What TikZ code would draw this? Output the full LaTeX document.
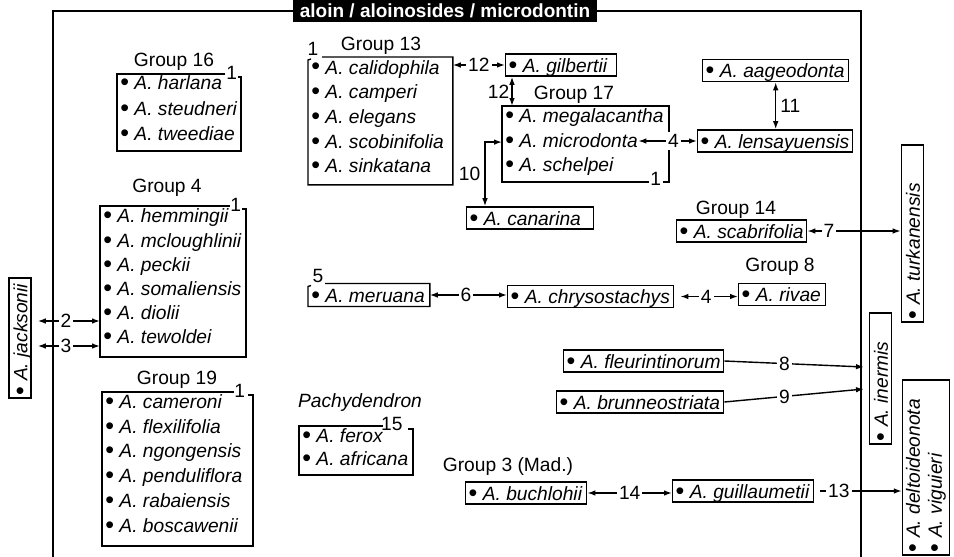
\documentclass[tikz,border=0pt]{standalone}
\usepackage{fontspec}
\setmainfont{Liberation Sans}
\usetikzlibrary{arrows.meta,calc}
\newcommand\bx[2]{\hbox to #1pt{#2\hss}}
\newcommand\spn[1]{\raisebox{-0.5pt}{\fontsize{12.5}{12}\selectfont\textbullet}\ \textit{A.\ #1}}
\tikzset{
  base/.style={font=\fontsize{9.6}{11}\selectfont},
  ln/.style={line width=0.7pt},
  spnd/.style={base, inner xsep=1.5pt, inner ysep=0.6pt, text height=8.6pt, text depth=1.3pt},
  sp/.style={spnd, draw, line width=0.7pt},
  it/.style={base, anchor=base west, inner xsep=0pt, inner ysep=0pt, text height=7pt, text depth=2.1pt},
  num/.style={base, inner sep=0pt},
  lab/.style={base, fill=white, inner sep=1pt},
  gb/.style={inner sep=0pt, anchor=north west},
  both/.style={{Latex[length=4pt,width=2.8pt]}-{Latex[length=4pt,width=2.8pt]}},
  one/.style={-{Latex[length=4pt,width=2.8pt]}},
}
\begin{document}
\begin{tikzpicture}[x=0.5pt,y=-0.5pt]
\useasboundingbox (0,0) rectangle (954,557);

% title and frame
\node[fill=black, text=white, font=\fontsize{9.5}{11}\selectfont\bfseries, minimum width=152pt, minimum height=11pt, inner sep=0pt] (title) at (445,11) {aloin / aloinosides / microdontin};
\draw[ln] (53,557) -- (53,11) -- (title.west);
\draw[ln] (title.east) -- (861,11) -- (861,557);

% Group 16
\node[base] (l16) at (174,62) {Group 16};
\node[gb, minimum width=61.5pt, minimum height=38pt] (g16) at (117,74) {};
\draw[ln] ([shift={(-16,0)}]g16.north east) -- (g16.north west) -- (g16.south west) -- (g16.south east) -- ([shift={(0,3)}]g16.north east) -- ([shift={(-3,3)}]g16.north east);
\node[num] (n16) at ([shift={(-9,-1)}]g16.north east) {1};
\node[it] (i16a) at (120,90) {\spn{harlana}};
\node[it] (i16b) at (120,115) {\spn{steudneri}};
\node[it] (i16c) at (120,140) {\spn{tweediae}};

% Group 4
\node[base] (l4) at (167,188) {Group 4};
\node[gb, minimum width=72.5pt, minimum height=75pt] (g4) at (100,206) {};
\draw[ln] ([shift={(-16,0)}]g4.north east) -- (g4.north west) -- (g4.south west) -- (g4.south east) -- ([shift={(0,3)}]g4.north east) -- ([shift={(-4,3)}]g4.north east);
\node[num] (n4) at ([shift={(-10,-1)}]g4.north east) {1};
\node[it] (i4a) at (103,222) {\spn{hemmingii}};
\node[it] (i4b) at (103,247) {\spn{mcloughlinii}};
\node[it] (i4c) at (103,271) {\spn{peckii}};
\node[it] (i4d) at (103,295) {\spn{somaliensis}};
\node[it] (i4e) at (103,319) {\spn{diolii}};
\node[it] (i4f) at (103,343) {\spn{tewoldei}};

% Group 19
\node[base] (l19) at (177,380) {Group 19};
\node[gb, minimum width=75pt, minimum height=76.5pt] (g19) at (102,392) {};
\draw[ln] ([shift={(-19,0)}]g19.north east) -- (g19.north west) -- (g19.south west) -- (g19.south east) -- ([shift={(0,3)}]g19.north east) -- ([shift={(-5,3)}]g19.north east);
\node[num] (n19) at ([shift={(-13,-1)}]g19.north east) {1};
\node[it] (i19a) at (105,408) {\spn{cameroni}};
\node[it] (i19b) at (105,433) {\spn{flexilifolia}};
\node[it] (i19c) at (105,457) {\spn{ngongensis}};
\node[it] (i19d) at (105,482) {\spn{penduliflora}};
\node[it] (i19e) at (105,507) {\spn{rabaiensis}};
\node[it] (i19f) at (105,532) {\spn{boscawenii}};

% Pachydendron
\node[base, font=\fontsize{9.6}{11}\selectfont\itshape] (lP) at (360,403) {Pachydendron};
\node[gb, minimum width=56.5pt, minimum height=24pt] (gP) at (299,426) {};
\draw[ln] ([shift={(-30,0)}]gP.north east) -- (gP.north west) -- (gP.south west) -- (gP.south east) -- ([shift={(0,3)}]gP.north east) -- ([shift={(-5,3)}]gP.north east);
\node[num] (nP) at ([shift={(-21,-2)}]gP.north east) {15};
\node[it] (iPa) at (302,442) {\spn{ferox}};
\node[it] (iPb) at (302,465) {\spn{africana}};

% Group 13
\node[base] (l13) at (381,46) {Group 13};
\node[gb, minimum width=72pt, minimum height=63.5pt] (g13) at (308,57) {};
\draw[ln] ([shift={(14,0)}]g13.north west) -- (g13.north east) -- (g13.south east) -- (g13.south west) -- ([shift={(0,3)}]g13.north west) -- ([shift={(3,2)}]g13.north west);
\node[num] (n13) at ([shift={(5,-8)}]g13.north west) {1};
\node[it] (i13a) at (311,74) {\spn{calidophila}};
\node[it] (i13b) at (311,98) {\spn{camperi}};
\node[it] (i13c) at (311,123) {\spn{elegans}};
\node[it] (i13d) at (311,148) {\spn{scobinifolia}};
\node[it] (i13e) at (311,172) {\spn{sinkatana}};

% Group 17
\node[base] (l17) at (574,95) {Group 17};
\node[gb, minimum width=83pt, minimum height=37.5pt] (g17) at (502,106) {};
\draw[ln] ([shift={(-20,0)}]g17.south east) -- (g17.south west) -- (g17.north west) -- (g17.north east) -- (g17.south east) -- ([shift={(-6,0)}]g17.south east);
\node[num] (n17) at ([shift={(-13,-3)}]g17.south east) {1};
\node[it] (i17a) at (505,122) {\spn{megalacantha}};
\node[it] (mic) at (505,147) {\spn{microdonta}};
\node[it] (i17c) at (505,171) {\spn{schelpei}};

% single boxes
\node[sp, anchor=west] (gilb) at (505,65) {\bx{52.5}{\spn{gilbertii}}};
\node[sp, anchor=west] (canar) at (466,218) {\bx{60.5}{\spn{canarina}}};
\node[sp, anchor=west] (aage) at (702,70.5) {\bx{70}{\spn{aageodonta}}};
\node[sp, anchor=west] (lensay) at (697,141) {\bx{74.5}{\spn{lensayuensis}}};
\node[base] (l14) at (736,210) {Group 14};
\node[sp, anchor=west] (scab) at (676,231) {\bx{62}{\spn{scabrifolia}}};
\node[spnd, anchor=west] (meru) at (308,295) {\bx{57.5}{\spn{meruana}}};
\draw[ln] ([shift={(17,0)}]meru.north west) -- (meru.north east) -- (meru.south east) -- (meru.south west) -- ([shift={(0,3)}]meru.north west) -- ([shift={(3,2)}]meru.north west);
\node[num] (n5) at ([shift={(10,-8)}]meru.north west) {5};
\node[sp, anchor=west] (chrys) at (507,296.5) {\bx{80}{\spn{chrysostachys}}};
\node[base] (l8) at (780,267) {Group 8};
\node[sp, anchor=west] (rivae) at (738,294.5) {\bx{40.5}{\spn{rivae}}};
\node[sp, anchor=west] (fleur) at (563,361) {\bx{77}{\spn{fleurintinorum}}};
\node[sp, anchor=west] (brun) at (556,402) {\bx{80.5}{\spn{brunneostriata}}};
\node[base] (l3) at (508,467) {Group 3 (Mad.)};
\node[sp, anchor=west] (buch) at (465,493) {\bx{57.5}{\spn{buchlohii}}};
\node[sp, anchor=west] (guil) at (672,491) {\bx{67.5}{\spn{guillaumetii}}};

% rotated boxes
\node[sp, rotate=90] (jack) at (20,338) {\bx{57}{\spn{jacksonii}}};
\node[sp, rotate=90] (turk) at (912.5,233.5) {\bx{85.5}{\spn{turkanensis}}};
\node[sp, rotate=90] (inerm) at (880.5,378.5) {\bx{62.5}{\spn{inermis}}};
\node[base, draw, line width=0.7pt, rotate=90, align=left, inner xsep=1.5pt, inner ysep=1pt, minimum height=23.5pt] (delt) at (926,467.5) {\bx{84.5}{\spn{deltoideonota}}\\\bx{84.5}{\spn{viguieri}}};

% connectors
\draw[ln,both] (g13.east |- gilb.west) -- node[lab]{12} (gilb.west);
\coordinate (v12) at ([shift={(7,0)}]gilb.south west);
\draw[ln,both] (v12) -- node[base,left,inner sep=1pt]{12} (v12 |- g17.north);
\coordinate (c10) at ([shift={(19,0)}]canar.north west);
\draw[ln,both] (g17.west |- mic.center) -| node[pos=0.75,base,left,inner sep=2pt]{10} (c10);
\draw[ln,both] (lensay.west) -- node[lab,pos=0.4]{4} (mic.east |- lensay.west);
\draw[ln,both] (aage.south) -- node[base,right,inner sep=2pt]{11} (aage.south |- lensay.north);
\draw[ln,both] (scab.east) -- node[lab,pos=0.23]{7} (turk.north |- scab.east);
\draw[ln,both] (meru.east) -- node[lab,pos=0.47]{6} (chrys.west |- meru.east);
\draw[ln,both,shorten <=3pt] (chrys.east) -- node[lab]{4} (rivae.west |- chrys.east);
\coordinate (y2) at (0,321);
\coordinate (y3) at (0,346);
\draw[ln,both,shorten <=3pt] (jack.south |- y2) -- node[lab]{2} (g4.west |- y2);
\draw[ln,both,shorten <=3pt] (jack.south |- y3) -- node[lab]{3} (g4.west |- y3);
\coordinate (c8) at (864,367);
\coordinate (c9) at (864,389);
\draw[ln,one] (fleur.east) -- node[lab,pos=0.43]{8} (c8);
\draw[ln,one] (brun.east) -- node[lab,pos=0.43]{9} (c9);
\draw[ln,both] (buch.east) -- node[lab]{14} (guil.west |- buch.east);
\draw[ln,one,shorten <=3pt] (guil.east) -- node[lab,pos=0.28]{13} (delt.north |- guil.east);
\end{tikzpicture}
\end{document}
